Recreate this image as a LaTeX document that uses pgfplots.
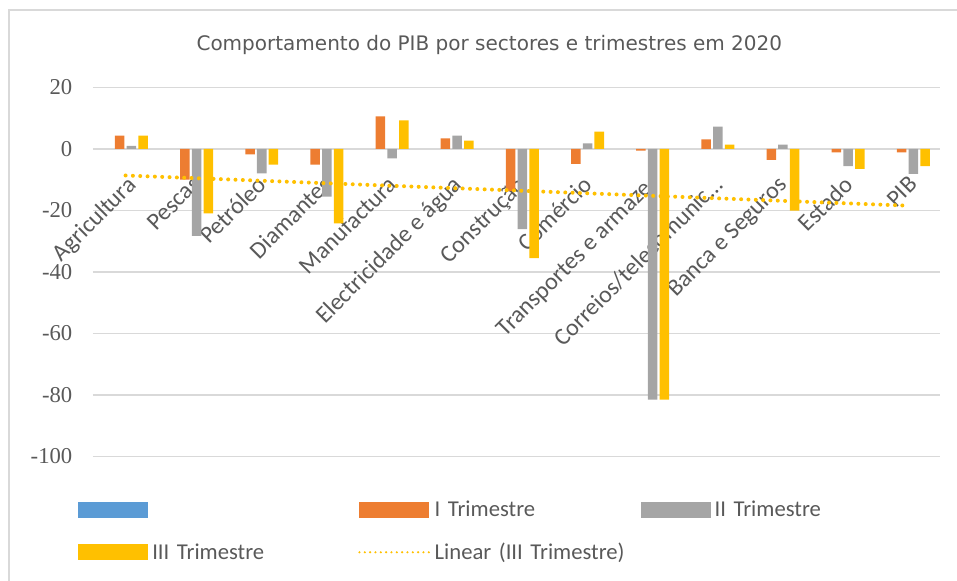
\documentclass[border=0pt]{standalone}
\usepackage{pgfplots}
\pgfplotsset{compat=1.18}
\usepackage{fontspec}
\setmainfont{Carlito}
\newfontfamily\tickfont{Liberation Serif}
\newfontfamily\titlefont{DejaVu Sans}
\definecolor{cblue}{HTML}{5B9BD5}
\definecolor{corange}{HTML}{ED7D31}
\definecolor{cgray}{HTML}{A5A5A5}
\definecolor{cyellow}{HTML}{FFC000}
\definecolor{txt}{HTML}{595959}
\definecolor{gridc}{HTML}{D9D9D9}
\pgfplotsset{
  barleg/.style={legend image code/.code={\fill[##1] (0pt,-6pt) rectangle (52.5pt,6pt);}},
  trendleg/.style={legend image code/.code={\draw[##1,line width=1.8pt,dash pattern=on 0pt off 4pt] (0pt,0pt) -- (52.5pt,0pt);}},
}
\begin{document}
\begin{tikzpicture}
\useasboundingbox (0,0) rectangle (717.75pt,-435.75pt);
\draw[gridc, line width=1.5pt] (6.75pt,-440pt) -- (6.75pt,-7.5pt) -- (720pt,-7.5pt);
\node[font=\titlefont\fontsize{15}{18}\selectfont, text=txt] at (367pt,-33.5pt) {Comportamento do PIB por sectores e trimestres em 2020};
\begin{axis}[
  at={(69.75pt,-342.4pt)}, anchor=south west,
  scale only axis, width=635.25pt, height=276.9pt,
  xmin=0.5, xmax=13.5, ymin=-100, ymax=20,
  axis x line*=middle, axis y line*=left,
  x axis line style={draw=gridc, line width=1pt},
  y axis line style={draw=none},
  ytick={-100,-80,-60,-40,-20,0,20},
  yticklabels={-100,-80,-60,-40,-20,0,20},
  hide obscured x ticks=false, hide obscured y ticks=false,
  ymajorgrids, grid style={draw=gridc, line width=1pt},
  major tick length=0pt,
  xtick={1,2,3,4,5,6,7,8,9,10,11,12,13},
  xticklabels={Agricultura,Pescas,Petróleo,Diamantes,Manufactura,Electricidade e água,Construção,Comércio,Transportes e armaze.,Correios/telecomunic…,Banca e Seguros,Estado,PIB},
  xticklabel style={font=\fontsize{18}{20}\selectfont, text=txt, rotate=45, anchor=north east},
  xticklabel shift=14.5pt,
  yticklabel style={font=\tickfont\fontsize{17}{20}\selectfont, text=txt},
  yticklabel shift=12pt,
  ybar, bar width=0.146,
  legend columns=3,
  legend style={at={(axis description cs:-0.0177,-0.119)}, anchor=north west,
    draw=none, fill=none, inner sep=0pt, row sep=18.5pt,
    nodes={inner sep=0pt, text width=150pt, align=left, font=\fontsize{17}{20}\selectfont, text=txt},
    /tikz/every odd column/.append style={column sep=3pt},
    /tikz/every even column/.append style={column sep=4.5pt}},
]
\addlegendimage{barleg, fill=cblue, draw=none}
\addlegendentry{\phantom{I}}
\addplot[barleg, fill=corange, draw=none, bar shift=-0.09] coordinates {
(1,4.3) (2,-10) (3,-1.8) (4,-5.1) (5,10.6) (6,3.4) (7,-13.7) (8,-4.9) (9,-0.6) (10,3.1) (11,-3.6) (12,-1.1) (13,-1.1)};
\addlegendentry{I Trimestre}
\addplot[barleg, fill=cgray, draw=none, bar shift=0.09] coordinates {
(1,1.0) (2,-28.3) (3,-8) (4,-15.5) (5,-3.1) (6,4.3) (7,-26.1) (8,1.8) (9,-81.5) (10,7.2) (11,1.4) (12,-5.6) (13,-8.1)};
\addlegendentry{II Trimestre}
\addplot[barleg, fill=cyellow, draw=none, bar shift=0.27] coordinates {
(1,4.3) (2,-21) (3,-5.1) (4,-24.2) (5,9.3) (6,2.7) (7,-35.5) (8,5.6) (9,-81.5) (10,1.4) (11,-20.1) (12,-6.5) (13,-5.6)};
\addlegendentry{III Trimestre}
\addplot[trendleg, sharp plot, mark=none, draw=cyellow, line width=3pt, line cap=round, dash pattern=on 0pt off 5.5pt] coordinates {(1,-8.65) (13,-18.46)};
\addlegendentry{Linear (III Trimestre)}
\end{axis}
\end{tikzpicture}
\end{document}
